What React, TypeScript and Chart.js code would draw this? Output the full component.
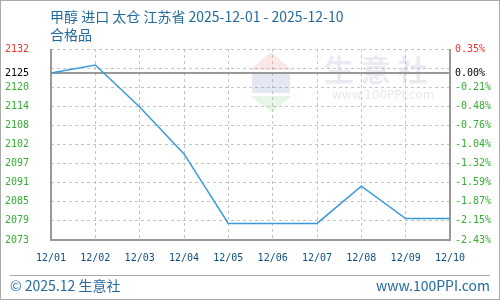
import React, { useEffect, useRef } from 'react';
import { Chart, registerables } from 'chart.js';

Chart.register(...registerables);

const categories = ['12/01', '12/02', '12/03', '12/04', '12/05', '12/06', '12/07', '12/08', '12/09', '12/10'];
const prices = [2125, 2127.5, 2114.5, 2100, 2078.5, 2078.5, 2078.5, 2090, 2080, 2080];
const basePrice = 2125;
const yMin = 2073.36;
const yMax = 2132.44;
const tickValues = [2132.44, 2126.53, 2125, 2120.63, 2114.72, 2108.81, 2102.9, 2096.99, 2091.08, 2085.18, 2079.27, 2073.36];
const leftTickLabels = ['2132', '', '2125', '2120', '2114', '2108', '2102', '2097', '2091', '2085', '2079', '2073'];
const rightTickLabels = ['0.35%', '', '0.00%', '-0.21%', '-0.48%', '-0.76%', '-1.04%', '-1.32%', '-1.59%', '-1.87%', '-2.15%', '-2.43%'];
const titleLine1 = '甲醇 进口 太仓 江苏省 2025-12-01 - 2025-12-10';
const titleLine2 = '合格品';
const footerLeft = '© 2025.12 生意社';
const footerRight = 'www.100PPI.com';

const RED = '#f03535';
const GREEN = '#35ad35';
const tickColor = (v: number) => (v === yMax ? RED : v === basePrice ? '#000000' : GREEN);

const framePlugin = {
  id: 'frame',
  beforeDatasetsDraw(chart: any) {
    const { ctx, chartArea: a, scales } = chart;
    ctx.save();
    // watermark
    ctx.fillStyle = 'rgba(240,120,120,0.18)';
    ctx.beginPath();
    ctx.moveTo(271, 52); ctx.lineTo(292, 70); ctx.lineTo(250, 70); ctx.closePath(); ctx.fill();
    ctx.fillStyle = 'rgba(120,140,190,0.2)';
    ctx.fillRect(252, 73, 38, 20);
    ctx.fillStyle = 'rgba(120,200,120,0.18)';
    ctx.beginPath();
    ctx.moveTo(250, 96); ctx.lineTo(292, 96); ctx.lineTo(271, 112); ctx.closePath(); ctx.fill();
    ctx.fillStyle = 'rgba(150,165,190,0.22)';
    ctx.font = 'bold 30px "Noto Sans CJK SC"';
    ctx.textBaseline = 'middle';
    ctx.textAlign = 'left';
    ctx.fillText('生 意 社', 324, 70);
    ctx.font = '12px "DejaVu Sans"';
    ctx.fillStyle = 'rgba(150,165,190,0.25)';
    ctx.fillText('www.100PPI.com', 332, 96);
    // base line
    const yb = scales.y.getPixelForValue(basePrice);
    ctx.strokeStyle = '#999999';
    ctx.lineWidth = 2;
    ctx.beginPath();
    ctx.moveTo(a.left, Math.round(yb));
    ctx.lineTo(a.right, Math.round(yb));
    ctx.stroke();
    // frame: left, bottom, right
    ctx.beginPath();
    ctx.moveTo(a.left, a.top);
    ctx.lineTo(a.left, a.bottom);
    ctx.lineTo(a.right, a.bottom);
    ctx.lineTo(a.right, a.top);
    ctx.stroke();
    ctx.restore();
  },
};

export default function App() {
  const ref = useRef<HTMLCanvasElement>(null);
  useEffect(() => {
    document.body.style.margin = '0';
    const tickFont = { family: '"DejaVu Sans Mono", monospace', size: 10 };
    const chart = new Chart(ref.current as HTMLCanvasElement, {
      type: 'line',
      data: {
        labels: categories,
        datasets: [
          {
            data: prices,
            borderColor: '#3a9ad9',
            borderWidth: 1.5,
            pointRadius: 0,
            tension: 0,
            fill: false,
          },
        ],
      },
      plugins: [framePlugin],
      options: {
        animation: false,
        responsive: false,
        devicePixelRatio: 1,
        layout: { padding: { left: 5, right: 0, top: 49, bottom: 30 } },
        plugins: { legend: { display: false }, tooltip: { enabled: false }, title: { display: false } },
        scales: {
          x: {
            type: 'category',
            offset: false,
            grid: { color: '#c4c4c4', lineWidth: 1, drawTicks: false },
            border: { display: false, dash: [3, 3] },
            ticks: { font: tickFont, color: '#0d4f80', padding: 12, maxRotation: 0, autoSkip: false },
            afterFit: (s: any) => { s.height = 30; },
          },
          y: {
            type: 'linear',
            position: 'left',
            min: yMin,
            max: yMax,
            afterBuildTicks: (s: any) => { s.ticks = tickValues.map((v) => ({ value: v })); },
            afterFit: (s: any) => { s.width = 46; },
            grid: {
              color: (c: any) => (c.tick && c.tick.value === basePrice ? 'rgba(0,0,0,0)' : '#c4c4c4'),
              lineWidth: 1,
              drawTicks: false,
            },
            border: { display: false, dash: [3, 3] },
            ticks: {
              autoSkip: false,
              crossAlign: 'far',
              padding: 0,
              font: tickFont,
              color: (c: any) => tickColor(c.tick ? c.tick.value : 0),
              callback: (v: any) => leftTickLabels[tickValues.indexOf(Number(v))] ?? '',
            },
          },
          y2: {
            type: 'linear',
            position: 'right',
            min: yMin,
            max: yMax,
            afterBuildTicks: (s: any) => { s.ticks = tickValues.map((v) => ({ value: v })); },
            afterFit: (s: any) => { s.width = 50; },
            grid: { drawOnChartArea: false, drawTicks: false },
            border: { display: false },
            ticks: {
              autoSkip: false,
              crossAlign: 'near',
              padding: 5,
              font: tickFont,
              color: (c: any) => tickColor(c.tick ? c.tick.value : 0),
              callback: (v: any) => rightTickLabels[tickValues.indexOf(Number(v))] ?? '',
            },
          },
        },
      } as any,
    });
    return () => chart.destroy();
  }, []);

  const textStyle: React.CSSProperties = {
    position: 'absolute',
    fontFamily: '"Noto Sans CJK SC", "Noto Sans", sans-serif',
    fontSize: 14,
    lineHeight: '18px',
    whiteSpace: 'nowrap',
    color: '#236b9e',
  };

  return (
    <div style={{ position: 'fixed', left: 0, top: 0, width: 500, height: 300, background: '#ffffff', overflow: 'hidden' }}>
      <canvas ref={ref} width={500} height={300} style={{ position: 'absolute', left: 0, top: 0 }} />
      <div style={{ ...textStyle, left: 50, top: 7 }}>{titleLine1}</div>
      <div style={{ ...textStyle, left: 50, top: 25 }}>{titleLine2}</div>
      <div style={{ position: 'absolute', left: 10, top: 275, width: 480, height: 0, borderTop: '1px solid #aaaaaa' }} />
      <div style={{ ...textStyle, left: 10, top: 276 }}>{footerLeft}</div>
      <div style={{ ...textStyle, right: 10, top: 276 }}>{footerRight}</div>
      <div style={{ position: 'absolute', left: 0, top: 0, width: 500, height: 300, boxSizing: 'border-box', border: '1px solid #aaaaaa', pointerEvents: 'none' }} />
    </div>
  );
}
